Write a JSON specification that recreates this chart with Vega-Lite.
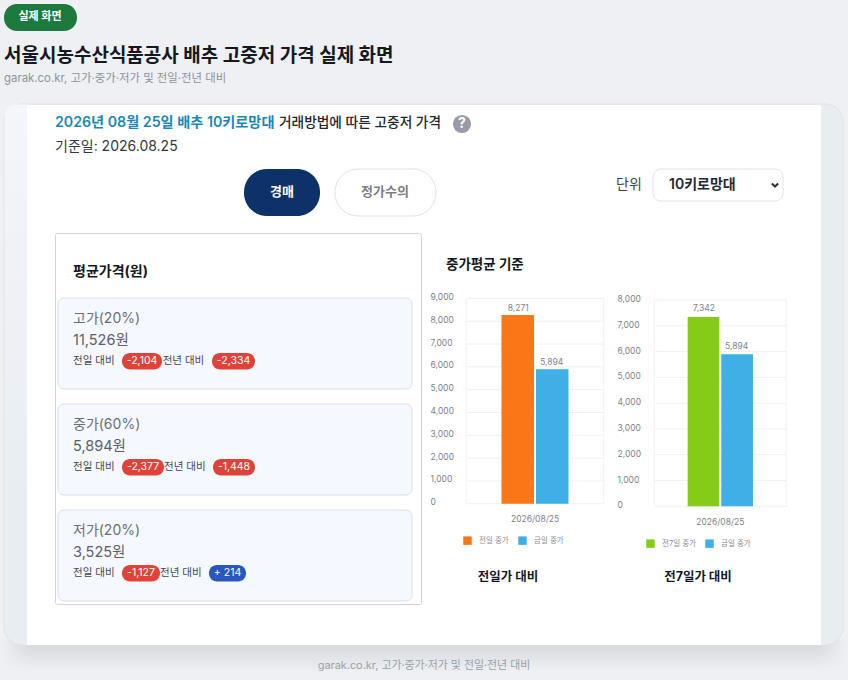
{
"$schema":"https://vega.github.io/schema/vega-lite/v6.json",
"width":848,"height":680,"padding":0,"autosize":{"type":"none"},
"background":"#eef0f4",
"config":{"font":"Inter, 'Noto Sans CJK KR', sans-serif","view":{"stroke":null},"text":{"baseline":"middle"}},
"data":{"values":[{"k":"a"}]},
"datasets":{
"cards":[{"card":"고가","title":"고가(20%)","price":"11,526원","day":"전일 대비","year":"전년 대비"},{"card":"중가","title":"중가(60%)","price":"5,894원","day":"전일 대비","year":"전년 대비"},{"card":"저가","title":"저가(20%)","price":"3,525원","day":"전일 대비","year":"전년 대비"}],
"chart1":[{"date":"2026/08/25","series":"전일 중가","price":8271},{"date":"2026/08/25","series":"금일 중가","price":5894}],
"chart2":[{"date":"2026/08/25","series":"전7일 중가","price":7342},{"date":"2026/08/25","series":"금일 중가","price":5894}],
"ticks1":[{"v":0},{"v":1000},{"v":2000},{"v":3000},{"v":4000},{"v":5000},{"v":6000},{"v":7000},{"v":8000},{"v":9000}],
"ticks2":[{"v":0},{"v":1000},{"v":2000},{"v":3000},{"v":4000},{"v":5000},{"v":6000},{"v":7000},{"v":8000}],
"edges":[{"e":0},{"e":1}]
},
"layer":[
{"mark":{"type":"rect","fill":{"gradient":"linear","x1":0,"y1":0,"x2":0,"y2":1,"stops":[{"offset":0,"color":"#d2d5d9"},{"offset":1,"color":"#eef0f4"}]}},"encoding":{"x":{"field":"k","type":"nominal","axis":null,"scale":{"type":"band","range":[0,848],"paddingInner":0,"paddingOuter":0}},"y":{"field":"k","type":"nominal","axis":null,"scale":{"type":"band","range":[640,672],"paddingInner":0,"paddingOuter":0}}}},
{"mark":{"type":"rect","fill":{"gradient":"linear","x1":0,"y1":0,"x2":1,"y2":0,"stops":[{"offset":0,"color":"#eef0f4"},{"offset":1,"color":"rgba(238,240,244,0)"}]}},"encoding":{"x":{"field":"k","type":"nominal","axis":null,"scale":{"type":"band","range":[0,30],"paddingInner":0,"paddingOuter":0}},"y":{"field":"k","type":"nominal","axis":null,"scale":{"type":"band","range":[640,672],"paddingInner":0,"paddingOuter":0}}}},
{"mark":{"type":"rect","fill":{"gradient":"linear","x1":0,"y1":0,"x2":1,"y2":0,"stops":[{"offset":0,"color":"rgba(238,240,244,0)"},{"offset":1,"color":"#eef0f4"}]}},"encoding":{"x":{"field":"k","type":"nominal","axis":null,"scale":{"type":"band","range":[818,848],"paddingInner":0,"paddingOuter":0}},"y":{"field":"k","type":"nominal","axis":null,"scale":{"type":"band","range":[640,672],"paddingInner":0,"paddingOuter":0}}}},
{"mark":{"type":"rect","fill":"#e9ecf1","stroke":"#dfe2e7","cornerRadius":18},"encoding":{"x":{"field":"k","type":"nominal","axis":null,"scale":{"type":"band","range":[4,843],"paddingInner":0,"paddingOuter":0}},"y":{"field":"k","type":"nominal","axis":null,"scale":{"type":"band","range":[104,645],"paddingInner":0,"paddingOuter":0}}}},
{"mark":{"type":"rect","cornerRadiusTopLeft":17,"fill":{"gradient":"linear","x1":0,"y1":0,"x2":0,"y2":1,"stops":[{"offset":0,"color":"#f4f6f9"},{"offset":1,"color":"rgba(244,246,249,0)"}]}},"encoding":{"x":{"field":"k","type":"nominal","axis":null,"scale":{"type":"band","range":[4.5,27],"paddingInner":0,"paddingOuter":0}},"y":{"field":"k","type":"nominal","axis":null,"scale":{"type":"band","range":[104.5,500],"paddingInner":0,"paddingOuter":0}}}},
{"mark":{"type":"rect","fill":"#ffffff"},"encoding":{"x":{"field":"k","type":"nominal","axis":null,"scale":{"type":"band","range":[27,821],"paddingInner":0,"paddingOuter":0}},"y":{"field":"k","type":"nominal","axis":null,"scale":{"type":"band","range":[105,645],"paddingInner":0,"paddingOuter":0}}}},
{"mark":{"type":"rect","fill":"#1e7a3c","cornerRadius":13},"encoding":{"x":{"field":"k","type":"nominal","axis":null,"scale":{"type":"band","range":[4,77],"paddingInner":0,"paddingOuter":0}},"y":{"field":"k","type":"nominal","axis":null,"scale":{"type":"band","range":[4,31],"paddingInner":0,"paddingOuter":0}}}},
{"data":{"values":[{"t":"실제 화면"}]},"mark":{"type":"text","align":"center","fontSize":11,"fontWeight":700,"color":"#ffffff"},"encoding":{"text":{"field":"t"},"x":{"field":"t","type":"nominal","axis":null,"scale":{"type":"point","range":[40,40]}},"y":{"field":"t","type":"nominal","axis":null,"scale":{"type":"point","range":[17,17]}}}},
{"data":{"values":[{"t":"서울시농수산식품공사 배추 고중저 가격 실제 화면"}]},"mark":{"type":"text","align":"left","fontSize":19,"fontWeight":700,"color":"#15191f"},"encoding":{"text":{"field":"t"},"x":{"field":"t","type":"nominal","axis":null,"scale":{"type":"point","range":[4,4]}},"y":{"field":"t","type":"nominal","axis":null,"scale":{"type":"point","range":[56,56]}}}},
{"data":{"values":[{"t":"garak.co.kr, 고가·중가·저가 및 전일·전년 대비"}]},"mark":{"type":"text","align":"left","fontSize":11.4,"color":"#8d939c"},"encoding":{"text":{"field":"t"},"x":{"field":"t","type":"nominal","axis":null,"scale":{"type":"point","range":[4,4]}},"y":{"field":"t","type":"nominal","axis":null,"scale":{"type":"point","range":[79,79]}}}},
{"data":{"values":[{"t":"2026년 08월 25일 배추 10키로망대"}]},"mark":{"type":"text","align":"left","fontSize":14.2,"fontWeight":600,"color":"#1a86b8"},"encoding":{"text":{"field":"t"},"x":{"field":"t","type":"nominal","axis":null,"scale":{"type":"point","range":[55,55]}},"y":{"field":"t","type":"nominal","axis":null,"scale":{"type":"point","range":[123,123]}}}},
{"data":{"values":[{"t":"거래방법에 따른 고중저 가격"}]},"mark":{"type":"text","align":"left","fontSize":13.7,"fontWeight":500,"color":"#23272d"},"encoding":{"text":{"field":"t"},"x":{"field":"t","type":"nominal","axis":null,"scale":{"type":"point","range":[279,279]}},"y":{"field":"t","type":"nominal","axis":null,"scale":{"type":"point","range":[123,123]}}}},
{"mark":{"type":"point","shape":"circle","filled":true,"fill":"#9a9aa8","size":330,"opacity":1},"encoding":{"x":{"field":"k","type":"nominal","axis":null,"scale":{"type":"point","range":[462,462]}},"y":{"field":"k","type":"nominal","axis":null,"scale":{"type":"point","range":[124,124]}}}},
{"data":{"values":[{"t":"?"}]},"mark":{"type":"text","align":"center","fontSize":14,"fontWeight":700,"color":"#ffffff"},"encoding":{"text":{"field":"t"},"x":{"field":"t","type":"nominal","axis":null,"scale":{"type":"point","range":[462,462]}},"y":{"field":"t","type":"nominal","axis":null,"scale":{"type":"point","range":[124,124]}}}},
{"data":{"values":[{"t":"기준일: 2026.08.25"}]},"mark":{"type":"text","align":"left","fontSize":14,"color":"#33383f"},"encoding":{"text":{"field":"t"},"x":{"field":"t","type":"nominal","axis":null,"scale":{"type":"point","range":[55,55]}},"y":{"field":"t","type":"nominal","axis":null,"scale":{"type":"point","range":[147,147]}}}},
{"mark":{"type":"rect","fill":"#0d326a","cornerRadius":23},"encoding":{"x":{"field":"k","type":"nominal","axis":null,"scale":{"type":"band","range":[244,320],"paddingInner":0,"paddingOuter":0}},"y":{"field":"k","type":"nominal","axis":null,"scale":{"type":"band","range":[169,216],"paddingInner":0,"paddingOuter":0}}}},
{"data":{"values":[{"t":"경매"}]},"mark":{"type":"text","align":"center","fontSize":13,"fontWeight":700,"color":"#ffffff"},"encoding":{"text":{"field":"t"},"x":{"field":"t","type":"nominal","axis":null,"scale":{"type":"point","range":[282,282]}},"y":{"field":"t","type":"nominal","axis":null,"scale":{"type":"point","range":[192,192]}}}},
{"mark":{"type":"rect","fill":"#ffffff","stroke":"#e0e2e6","cornerRadius":23},"encoding":{"x":{"field":"k","type":"nominal","axis":null,"scale":{"type":"band","range":[335,436],"paddingInner":0,"paddingOuter":0}},"y":{"field":"k","type":"nominal","axis":null,"scale":{"type":"band","range":[169,216],"paddingInner":0,"paddingOuter":0}}}},
{"data":{"values":[{"t":"정가수의"}]},"mark":{"type":"text","align":"center","fontSize":13,"fontWeight":600,"color":"#7b7f86"},"encoding":{"text":{"field":"t"},"x":{"field":"t","type":"nominal","axis":null,"scale":{"type":"point","range":[385,385]}},"y":{"field":"t","type":"nominal","axis":null,"scale":{"type":"point","range":[192,192]}}}},
{"data":{"values":[{"t":"단위"}]},"mark":{"type":"text","align":"left","fontSize":14,"color":"#3f444b"},"encoding":{"text":{"field":"t"},"x":{"field":"t","type":"nominal","axis":null,"scale":{"type":"point","range":[616,616]}},"y":{"field":"t","type":"nominal","axis":null,"scale":{"type":"point","range":[185,185]}}}},
{"mark":{"type":"rect","fill":"#ffffff","stroke":"#e0e2e6","cornerRadius":8},"encoding":{"x":{"field":"k","type":"nominal","axis":null,"scale":{"type":"band","range":[653,783],"paddingInner":0,"paddingOuter":0}},"y":{"field":"k","type":"nominal","axis":null,"scale":{"type":"band","range":[169,201],"paddingInner":0,"paddingOuter":0}}}},
{"data":{"values":[{"t":"10키로망대"}]},"mark":{"type":"text","align":"left","fontSize":14,"fontWeight":600,"color":"#24282e"},"encoding":{"text":{"field":"t"},"x":{"field":"t","type":"nominal","axis":null,"scale":{"type":"point","range":[669,669]}},"y":{"field":"t","type":"nominal","axis":null,"scale":{"type":"point","range":[185,185]}}}},
{"mark":{"type":"point","shape":"M-1,-0.5L0,0.5L1,-0.5","filled":false,"stroke":"#2b2f35","strokeWidth":2,"size":40,"opacity":1},"encoding":{"x":{"field":"k","type":"nominal","axis":null,"scale":{"type":"point","range":[775,775]}},"y":{"field":"k","type":"nominal","axis":null,"scale":{"type":"point","range":[185,185]}}}},
{"mark":{"type":"rect","fill":"#ffffff","stroke":"#cfd2d6","cornerRadius":2},"encoding":{"x":{"field":"k","type":"nominal","axis":null,"scale":{"type":"band","range":[55.5,421.5],"paddingInner":0,"paddingOuter":0}},"y":{"field":"k","type":"nominal","axis":null,"scale":{"type":"band","range":[233.5,604.5],"paddingInner":0,"paddingOuter":0}}}},
{"data":{"values":[{"t":"평균가격(원)"}]},"mark":{"type":"text","align":"left","fontSize":14,"fontWeight":700,"color":"#14181d"},"encoding":{"text":{"field":"t"},"x":{"field":"t","type":"nominal","axis":null,"scale":{"type":"point","range":[73,73]}},"y":{"field":"t","type":"nominal","axis":null,"scale":{"type":"point","range":[272,272]}}}},
{"data":{"values":[{"t":"중가평균 기준"}]},"mark":{"type":"text","align":"left","fontSize":13.5,"fontWeight":700,"color":"#14181d"},"encoding":{"text":{"field":"t"},"x":{"field":"t","type":"nominal","axis":null,"scale":{"type":"point","range":[446,446]}},"y":{"field":"t","type":"nominal","axis":null,"scale":{"type":"point","range":[265,265]}}}},
{"data":{"name":"cards"},"mark":{"type":"rect","fill":"#f5f8fe","stroke":"#d8dfe9","cornerRadius":6},"encoding":{"x":{"field":"k0","type":"nominal","axis":null,"scale":{"type":"band","range":[58,412],"paddingInner":0,"paddingOuter":0}},"y":{"field":"card","type":"nominal","axis":null,"sort":null,"scale":{"type":"band","domain":["고가","중가","저가"],"range":[298,601],"paddingInner":0.1415,"paddingOuter":0}}}},
{"data":{"name":"cards"},"mark":{"type":"text","align":"left","fontSize":14,"color":"#6a6f76"},"encoding":{"text":{"field":"title"},"x":{"field":"k0","type":"nominal","axis":null,"scale":{"type":"point","range":[73,73]}},"y":{"field":"card","type":"nominal","axis":null,"scale":{"type":"point","padding":0,"domain":["고가","중가","저가"],"range":[319,531]}}}},
{"data":{"name":"cards"},"mark":{"type":"text","align":"left","fontSize":14.5,"color":"#5c6168"},"encoding":{"text":{"field":"price"},"x":{"field":"k0","type":"nominal","axis":null,"scale":{"type":"point","range":[73,73]}},"y":{"field":"card","type":"nominal","axis":null,"scale":{"type":"point","padding":0,"domain":["고가","중가","저가"],"range":[341,553]}}}},
{"data":{"name":"cards"},"mark":{"type":"text","align":"left","fontSize":10.5,"color":"#43474d"},"encoding":{"text":{"field":"day"},"x":{"field":"k0","type":"nominal","axis":null,"scale":{"type":"point","range":[73,73]}},"y":{"field":"card","type":"nominal","axis":null,"scale":{"type":"point","padding":0,"domain":["고가","중가","저가"],"range":[361,573]}}}},
{"data":{"name":"cards"},"mark":{"type":"text","align":"left","fontSize":10.5,"color":"#43474d"},"encoding":{"text":{"field":"year"},"x":{"field":"card","type":"nominal","axis":null,"scale":{"type":"point","padding":0,"domain":["저가","-","고가","중가"],"range":[160,164]}},"y":{"field":"card","type":"nominal","axis":null,"scale":{"type":"point","padding":0,"domain":["고가","중가","저가"],"range":[361,573]}}}},
{"data":{"values":[{"card":"고가","delta":-2104,"label":"-2,104"}]},"encoding":{"x":{"field":"card","type":"nominal","axis":null,"scale":{"type":"band","range":[122,162],"paddingInner":0,"paddingOuter":0}},"y":{"field":"card","type":"nominal","axis":null,"scale":{"type":"band","domain":["고가","중가","저가"],"range":[353,581.5],"paddingInner":0.844,"paddingOuter":0}}},"layer":[{"mark":{"type":"rect","cornerRadius":8,"fill":"#df4239"}},{"mark":{"type":"text","align":"center","fontSize":10.5,"color":"#ffffff"},"encoding":{"text":{"field":"label"}}}]},
{"data":{"values":[{"card":"중가","delta":-2377,"label":"-2,377"}]},"encoding":{"x":{"field":"card","type":"nominal","axis":null,"scale":{"type":"band","range":[122,164],"paddingInner":0,"paddingOuter":0}},"y":{"field":"card","type":"nominal","axis":null,"scale":{"type":"band","domain":["고가","중가","저가"],"range":[353,581.5],"paddingInner":0.844,"paddingOuter":0}}},"layer":[{"mark":{"type":"rect","cornerRadius":8,"fill":"#df4239"}},{"mark":{"type":"text","align":"center","fontSize":10.5,"color":"#ffffff"},"encoding":{"text":{"field":"label"}}}]},
{"data":{"values":[{"card":"저가","delta":-1127,"label":"-1,127"}]},"encoding":{"x":{"field":"card","type":"nominal","axis":null,"scale":{"type":"band","range":[122,160],"paddingInner":0,"paddingOuter":0}},"y":{"field":"card","type":"nominal","axis":null,"scale":{"type":"band","domain":["고가","중가","저가"],"range":[353,581.5],"paddingInner":0.844,"paddingOuter":0}}},"layer":[{"mark":{"type":"rect","cornerRadius":8,"fill":"#df4239"}},{"mark":{"type":"text","align":"center","fontSize":10.5,"color":"#ffffff"},"encoding":{"text":{"field":"label"}}}]},
{"data":{"values":[{"card":"고가","delta":-2334,"label":"-2,334"}]},"encoding":{"x":{"field":"card","type":"nominal","axis":null,"scale":{"type":"band","range":[212,255],"paddingInner":0,"paddingOuter":0}},"y":{"field":"card","type":"nominal","axis":null,"scale":{"type":"band","domain":["고가","중가","저가"],"range":[353,581.5],"paddingInner":0.844,"paddingOuter":0}}},"layer":[{"mark":{"type":"rect","cornerRadius":8,"fill":"#df4239"}},{"mark":{"type":"text","align":"center","fontSize":10.5,"color":"#ffffff"},"encoding":{"text":{"field":"label"}}}]},
{"data":{"values":[{"card":"중가","delta":-1448,"label":"-1,448"}]},"encoding":{"x":{"field":"card","type":"nominal","axis":null,"scale":{"type":"band","range":[213,255],"paddingInner":0,"paddingOuter":0}},"y":{"field":"card","type":"nominal","axis":null,"scale":{"type":"band","domain":["고가","중가","저가"],"range":[353,581.5],"paddingInner":0.844,"paddingOuter":0}}},"layer":[{"mark":{"type":"rect","cornerRadius":8,"fill":"#df4239"}},{"mark":{"type":"text","align":"center","fontSize":10.5,"color":"#ffffff"},"encoding":{"text":{"field":"label"}}}]},
{"data":{"values":[{"card":"저가","delta":214,"label":"+ 214"}]},"encoding":{"x":{"field":"card","type":"nominal","axis":null,"scale":{"type":"band","range":[209,246],"paddingInner":0,"paddingOuter":0}},"y":{"field":"card","type":"nominal","axis":null,"scale":{"type":"band","domain":["고가","중가","저가"],"range":[353,581.5],"paddingInner":0.844,"paddingOuter":0}}},"layer":[{"mark":{"type":"rect","cornerRadius":8,"fill":"#2a56bd"}},{"mark":{"type":"text","align":"center","fontSize":10.5,"color":"#ffffff"},"encoding":{"text":{"field":"label"}}}]},

{"data":{"name":"ticks1"},"mark":{"type":"rule","color":"#eef0f3","strokeWidth":1},"encoding":{"x":{"datum":0,"type":"quantitative","axis":null,"scale":{"domain":[0,1],"range":[466.3,603.7]}},"x2":{"datum":1},"y":{"field":"v","type":"quantitative","scale":{"domain":[0,9000],"range":[503.7,298.4]},"axis":{"title":null,"orient":"left","offset":-430,"zindex":1,"values":[0,1000,2000,3000,4000,5000,6000,7000,8000,9000],"format":",.0f","domain":false,"ticks":false,"tickSize":0,"grid":false,"labelPadding":0,"labelAlign":"left","labelFontSize":8.5,"labelColor":"#7d8187","labelOffset":-2}}}},
{"data":{"name":"edges"},"mark":{"type":"rule","color":"#eef0f3","strokeWidth":1},"encoding":{"x":{"field":"e","type":"quantitative","axis":null,"scale":{"domain":[0,1],"range":[466.3,603.7]}},"y":{"datum":0,"type":"quantitative","axis":null,"scale":{"domain":[0,9000],"range":[503.7,298.4]}},"y2":{"datum":9000}}},
{"data":{"name":"chart1"},"mark":{"type":"bar","strokeWidth":0},"encoding":{"x":{"field":"date","type":"nominal","scale":{"type":"band","range":[466.3,603.7],"paddingInner":0,"paddingOuter":0.525},"axis":{"title":null,"orient":"bottom","offset":-176.3,"zindex":1,"domain":false,"ticks":false,"tickSize":0,"labelPadding":11,"labelAngle":0,"labelFontSize":8.5,"labelColor":"#7d8187"}},"xOffset":{"field":"series","type":"nominal","scale":{"domain":["전일 중가","금일 중가"],"paddingInner":0.058,"paddingOuter":0}},"y":{"field":"price","type":"quantitative","axis":null,"scale":{"domain":[0,9000],"range":[503.7,298.4]}},"color":{"field":"series","type":"nominal","scale":{"domain":["전일 중가","금일 중가"],"range":["#f97716","#40afe6"]},"legend":{"title":null,"orient":"none","legendX":463,"legendY":536,"direction":"horizontal","columns":2,"symbolType":"square","symbolSize":72,"symbolStrokeWidth":0,"labelFontSize":7.5,"labelColor":"#8a8e94","labelOffset":7,"columnPadding":9}}}},
{"data":{"name":"chart1"},"mark":{"type":"text","align":"center","dy":-7.5,"fontSize":8.5,"color":"#7d8187"},"encoding":{"text":{"field":"price","format":","},"x":{"field":"date","type":"nominal","axis":null,"scale":{"type":"band","range":[466.3,603.7],"paddingInner":0,"paddingOuter":0.525}},"xOffset":{"field":"series","type":"nominal","scale":{"type":"point","padding":0.5,"domain":["전일 중가","금일 중가"]}},"y":{"field":"price","type":"quantitative","axis":null,"scale":{"domain":[0,9000],"range":[503.7,298.4]}}}},

{"data":{"name":"ticks2"},"mark":{"type":"rule","color":"#eef0f3","strokeWidth":1},"encoding":{"x":{"datum":0,"type":"quantitative","axis":null,"scale":{"domain":[0,1],"range":[654.3,786.3]}},"x2":{"datum":1},"y":{"field":"v","type":"quantitative","scale":{"domain":[0,8000],"range":[506.3,300]},"axis":{"title":null,"orient":"left","offset":-617,"zindex":1,"values":[0,1000,2000,3000,4000,5000,6000,7000,8000],"format":",.0f","domain":false,"ticks":false,"tickSize":0,"grid":false,"labelPadding":0,"labelAlign":"left","labelFontSize":8.5,"labelColor":"#7d8187","labelOffset":-1.5}}}},
{"data":{"name":"edges"},"mark":{"type":"rule","color":"#eef0f3","strokeWidth":1},"encoding":{"x":{"field":"e","type":"quantitative","axis":null,"scale":{"domain":[0,1],"range":[654.3,786.3]}},"y":{"datum":0,"type":"quantitative","axis":null,"scale":{"domain":[0,8000],"range":[506.3,300]}},"y2":{"datum":8000}}},
{"data":{"name":"chart2"},"mark":{"type":"bar","strokeWidth":0},"encoding":{"x":{"field":"date","type":"nominal","scale":{"type":"band","range":[654.3,786.3],"paddingInner":0,"paddingOuter":0.51},"axis":{"title":null,"orient":"bottom","offset":-173.7,"zindex":1,"domain":false,"ticks":false,"tickSize":0,"labelPadding":11,"labelAngle":0,"labelFontSize":8.5,"labelColor":"#7d8187"}},"xOffset":{"field":"series","type":"nominal","scale":{"domain":["전7일 중가","금일 중가"],"paddingInner":0.058,"paddingOuter":0}},"y":{"field":"price","type":"quantitative","axis":null,"scale":{"domain":[0,8000],"range":[506.3,300]}},"color":{"field":"series","type":"nominal","scale":{"domain":["전7일 중가","금일 중가"],"range":["#84cc16","#40afe6"]},"legend":{"title":null,"orient":"none","legendX":646,"legendY":539,"direction":"horizontal","columns":2,"symbolType":"square","symbolSize":72,"symbolStrokeWidth":0,"labelFontSize":7.5,"labelColor":"#8a8e94","labelOffset":7,"columnPadding":9}}}},
{"data":{"name":"chart2"},"mark":{"type":"text","align":"center","dy":-8.5,"fontSize":8.5,"color":"#7d8187"},"encoding":{"text":{"field":"price","format":","},"x":{"field":"date","type":"nominal","axis":null,"scale":{"type":"band","range":[654.3,786.3],"paddingInner":0,"paddingOuter":0.51}},"xOffset":{"field":"series","type":"nominal","scale":{"type":"point","padding":0.5,"domain":["전7일 중가","금일 중가"]}},"y":{"field":"price","type":"quantitative","axis":null,"scale":{"domain":[0,8000],"range":[506.3,300]}}}},

{"data":{"values":[{"t":"전일가 대비"}]},"mark":{"type":"text","align":"center","fontSize":12.5,"fontWeight":700,"color":"#14181d"},"encoding":{"text":{"field":"t"},"x":{"field":"t","type":"nominal","axis":null,"scale":{"type":"point","range":[508,508]}},"y":{"field":"t","type":"nominal","axis":null,"scale":{"type":"point","range":[577,577]}}}},
{"data":{"values":[{"t":"전7일가 대비"}]},"mark":{"type":"text","align":"center","fontSize":12.5,"fontWeight":700,"color":"#14181d"},"encoding":{"text":{"field":"t"},"x":{"field":"t","type":"nominal","axis":null,"scale":{"type":"point","range":[698,698]}},"y":{"field":"t","type":"nominal","axis":null,"scale":{"type":"point","range":[577,577]}}}},
{"data":{"values":[{"t":"garak.co.kr, 고가·중가·저가 및 전일·전년 대비"}]},"mark":{"type":"text","align":"center","fontSize":10.9,"color":"#9a9fa8"},"encoding":{"text":{"field":"t"},"x":{"field":"t","type":"nominal","axis":null,"scale":{"type":"point","range":[424,424]}},"y":{"field":"t","type":"nominal","axis":null,"scale":{"type":"point","range":[666,666]}}}}
],
"resolve":{"scale":{"x":"independent","y":"independent","color":"independent","xOffset":"independent"},"axis":{"x":"independent","y":"independent"},"legend":{"color":"independent"}}
}
